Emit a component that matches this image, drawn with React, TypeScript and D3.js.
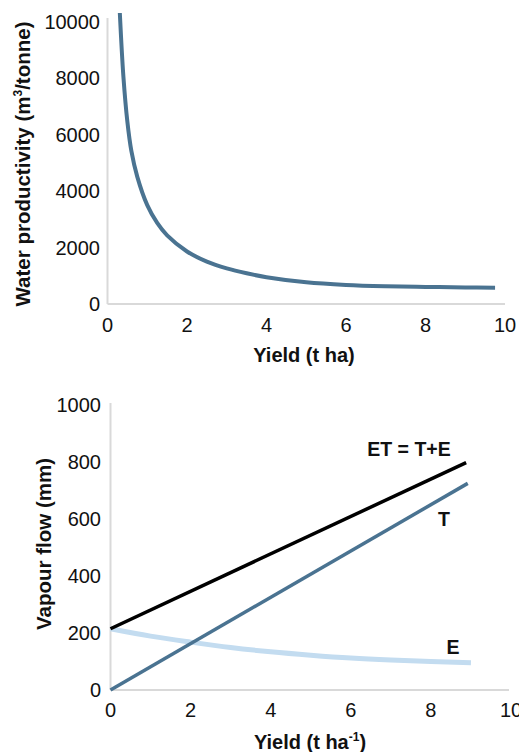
import React from "react";
import * as d3 from "d3";

// Top chart: water productivity vs yield
const wpYield = [0.31, 0.4, 0.5, 0.6, 0.75, 1.0, 1.25, 1.5, 2.0, 2.5, 3.0, 3.5, 4.0, 5.0, 6.0, 7.0, 8.0, 9.0, 9.75];
const wpValue = [10300, 8050, 6450, 5420, 4500, 3500, 2870, 2430, 1860, 1500, 1260, 1086, 948, 768, 675, 629, 606, 585, 577];
const topXTicks = [0, 2, 4, 6, 8, 10];
const topYTicks = [0, 2000, 4000, 6000, 8000, 10000];

// Bottom chart: vapour flows vs yield
const etYield = [0, 8.88];
const etValue = [215, 798];
const tYield = [0, 8.92];
const tValue = [0, 725];
const eYield = [0, 1, 2, 3, 4, 5, 6, 7, 8, 9];
const eValue = [215, 189, 168, 149, 134, 122, 112, 105, 100, 96];
const botXTicks = [0, 2, 4, 6, 8, 10];
const botYTicks = [0, 200, 400, 600, 800, 1000];

const FONT = '"Liberation Sans", Arial, Helvetica, sans-serif';
const AXIS = "#d9d9d9";
const STEEL = "#4a7391";
const LIGHT = "#c3dcf0";

type P = [number, number];
const zip = (xs: number[], ys: number[]): P[] => xs.map((x, i) => [x, ys[i]]);

export default function App() {
  // Top scales
  const tx = d3.scaleLinear().domain([0, 10]).range([107.5, 505]);
  const ty = d3.scaleLinear().domain([0, 10000]).range([304, 21.5]);
  // Bottom scales
  const bx = d3.scaleLinear().domain([0, 10]).range([110.5, 511]);
  const by = d3.scaleLinear().domain([0, 1000]).range([690, 405]);

  const topLine = d3
    .line<P>()
    .x((d) => tx(d[0]))
    .y((d) => ty(d[1]))
    .curve(d3.curveCatmullRom.alpha(0.5));
  const botLine = d3
    .line<P>()
    .x((d) => bx(d[0]))
    .y((d) => by(d[1]))
    .curve(d3.curveMonotoneX);

  return (
    <svg
      width={519}
      height={752}
      style={{ position: "absolute", left: 0, top: 0, background: "#fff" }}
      fontFamily={FONT}
    >
      {/* ---------- Top chart ---------- */}
      <line x1={tx(0)} x2={tx(0)} y1={18} y2={ty(0)} stroke={AXIS} strokeWidth={2} />
      <line x1={tx(0)} x2={tx(10)} y1={ty(0)} y2={ty(0)} stroke={AXIS} strokeWidth={2} />
      {topYTicks.map((v) => (
        <text key={"ty" + v} x={100} y={ty(v)} dy="0.35em" textAnchor="end" fontSize={20} fill="#111">
          {v}
        </text>
      ))}
      {topXTicks.map((v) => (
        <text key={"tx" + v} x={tx(v)} y={332} textAnchor="middle" fontSize={20} fill="#111">
          {v}
        </text>
      ))}
      <path d={topLine(zip(wpYield, wpValue)) || ""} fill="none" stroke={STEEL} strokeWidth={4} />
      <text x={304} y={362} textAnchor="middle" fontSize={20} fontWeight="bold" fill="#111">
        Yield (t ha)
      </text>
      <text
        transform="translate(30,164) rotate(-90)"
        textAnchor="middle"
        fontSize={20.5}
        fontWeight="bold"
        fill="#111"
      >
        Water productivity (m<tspan fontSize={12} dy={-8}>3</tspan>
        <tspan dy={8}>/tonne)</tspan>
      </text>

      {/* ---------- Bottom chart ---------- */}
      <line x1={bx(0)} x2={bx(0)} y1={by(1000) - 2} y2={by(0)} stroke={AXIS} strokeWidth={2} />
      <line x1={bx(0)} x2={bx(10) - 2} y1={by(0)} y2={by(0)} stroke={AXIS} strokeWidth={2} />
      {botYTicks.map((v) => (
        <text key={"by" + v} x={101} y={by(v)} dy="0.35em" textAnchor="end" fontSize={20} fill="#111">
          {v}
        </text>
      ))}
      {botXTicks.map((v) => (
        <text key={"bx" + v} x={bx(v)} y={717} textAnchor="middle" fontSize={20} fill="#111">
          {v}
        </text>
      ))}
      <path d={botLine(zip(eYield, eValue)) || ""} fill="none" stroke={LIGHT} strokeWidth={5} />
      <path d={botLine(zip(tYield, tValue)) || ""} fill="none" stroke={STEEL} strokeWidth={3.5} />
      <path d={botLine(zip(etYield, etValue)) || ""} fill="none" stroke="#000" strokeWidth={3.5} />

      <text x={409} y={456} textAnchor="middle" fontSize={19.5} fontWeight="bold" fill="#111">
        ET = T+E
      </text>
      <text x={444} y={526} textAnchor="middle" fontSize={19.5} fontWeight="bold" fill="#111">
        T
      </text>
      <text x={453} y={654} textAnchor="middle" fontSize={19.5} fontWeight="bold" fill="#111">
        E
      </text>

      <text x={310} y={749} textAnchor="middle" fontSize={20} fontWeight="bold" fill="#111">
        Yield (t ha<tspan fontSize={12} dy={-8}>-1</tspan>
        <tspan dy={8}>)</tspan>
      </text>
      <text
        transform="translate(51,544) rotate(-90)"
        textAnchor="middle"
        fontSize={20.5}
        fontWeight="bold"
        fill="#111"
      >
        Vapour flow (mm)
      </text>
    </svg>
  );
}
